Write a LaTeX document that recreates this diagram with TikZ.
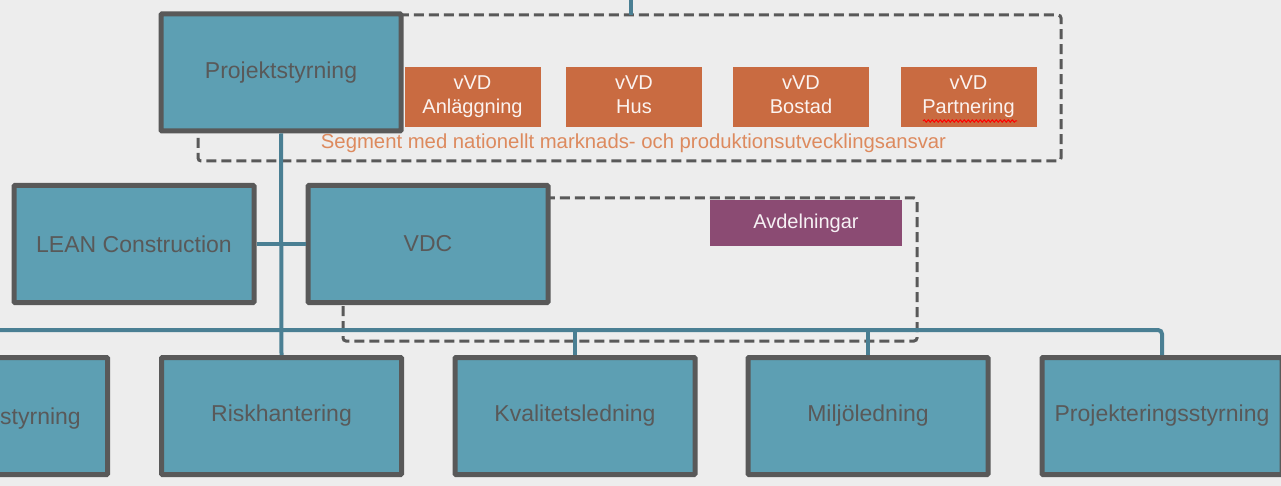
\documentclass[tikz,border=0pt]{standalone}
\usepackage{fontspec}
\setmainfont{Liberation Sans}
\usepackage{xcolor}
\usepackage{tikz}
\usetikzlibrary{decorations.pathmorphing}
\definecolor{unitfill}{HTML}{5D9FB3}
\definecolor{unitline}{HTML}{595959}
\definecolor{linkcol}{HTML}{4A7F93}
\definecolor{segfill}{HTML}{C96B41}
\definecolor{segtext}{HTML}{DD8A5E}
\definecolor{avdfill}{HTML}{8B4B73}
\definecolor{bgcol}{HTML}{EDEDED}
\tikzset{unit/.style={draw=unitline,fill=unitfill,line width=5pt,rounded corners=1pt,
        minimum width=240pt,minimum height=117pt,text=unitline,
        font=\fontsize{23}{27}\selectfont},
    segbox/.style={fill=segfill,minimum width=136pt,minimum height=60pt,align=center,
        text=white!92!segfill,font=\fontsize{20}{24}\selectfont},
    avdbox/.style={segbox,fill=avdfill,minimum width=192pt,minimum height=46pt,
        text=white!92!avdfill},
    frame/.style={draw=unitline,dashed,dash pattern=on 10pt off 5pt,line width=3pt,
        rounded corners=3pt},
    link/.style={draw=linkcol,line width=4pt}}

\begin{document}
\begin{tikzpicture}[x=1pt,y=-1pt]
\useasboundingbox (0,0) rectangle (1281,486);
\fill[bgcol] (0,0) rectangle (1281,486);
\draw[frame] (198,15) rectangle (1061,161);
\draw[frame] (343,198) rectangle (917,341);
\node[segbox] (anl) at (472.5,97) {\strut vVD\\\strut Anläggning};
\node[segbox] (hus) at (634,97) {\strut vVD\\\strut Hus};
\node[segbox] (bost) at (801,97) {\strut vVD\\\strut Bostad};
\node[segbox] (part) at (968.5,97) {\strut vVD\\\strut Partnering};
\draw[red,line width=1pt,decorate,decoration={snake,amplitude=1.2pt,segment length=4pt}]
    (923,121) -- (1017,121);
\node[text=segtext,font=\fontsize{20.3}{24}\selectfont] (seg) at (633.5,143)
    {Segment med nationellt marknads- och produktionsutvecklingsansvar};
\node[avdbox] (avd) at (806,223) {Avdelningar};
\coordinate (top) at (631,0);
\coordinate (topend) at (631,15);
\coordinate (bus) at (0,330);
\node[unit] (ekon) at (-12.5,416) {};
\node[text=unitline,font=\fontsize{23}{27}\selectfont,anchor=base west,inner sep=0pt]
    (ekontext) at (0,424) {styrning};
\node[unit] (risk) at (281.5,416) {Riskhantering};
\node[unit] (kval) at (575,416) {Kvalitetsledning};
\node[unit] (milj) at (868,416) {Miljöledning};
\node[unit] (pstyr) at (1162,416) {Projekteringsstyrning};
\node[unit] (lean) at (134,244) {LEAN Construction};
\node[unit] (vdc) at (428,244) {VDC};
\node[unit] (proj) at (281,72.5) {Projektstyrning};
\draw[link] (top) -- (topend);
\draw[link,rounded corners=4pt] (bus) -| (pstyr.north);
\draw[link] (kval.north) -- (kval.north |- bus);
\draw[link] (milj.north) -- (milj.north |- bus);
\draw[link] (proj.south) -- (risk.north);
\draw[link] (lean.east) -- (vdc.west);
\end{tikzpicture}
\end{document}
